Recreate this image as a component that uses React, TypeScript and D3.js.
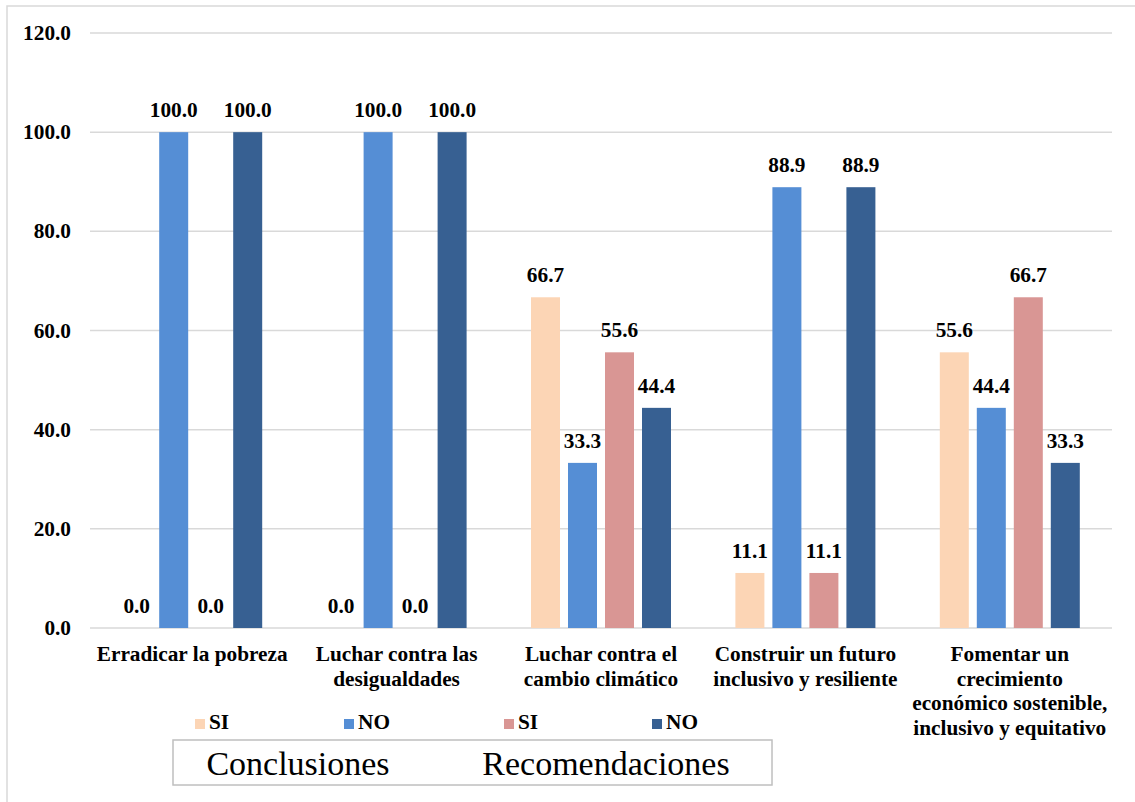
import React from "react";
import * as d3 from "d3";

const categories: string[][] = [
  ["Erradicar la pobreza"],
  ["Luchar contra las", "desigualdades"],
  ["Luchar contra el", "cambio climático"],
  ["Construir un futuro", "inclusivo y resiliente"],
  ["Fomentar un", "crecimiento", "económico sostenible,", "inclusivo y equitativo"],
];
const seriesKeys = ["conclSI", "conclNO", "recSI", "recNO"];
const seriesLabels = ["SI", "NO", "SI", "NO"];
const seriesColors = ["#FCD5B5", "#558ED5", "#D99694", "#376092"];
const conclusionesSI = [0, 0, 66.7, 11.1, 55.6];
const conclusionesNO = [100, 100, 33.3, 88.9, 44.4];
const recomendacionesSI = [0, 0, 55.6, 11.1, 66.7];
const recomendacionesNO = [100, 100, 44.4, 88.9, 33.3];
const yTicks = [0, 20, 40, 60, 80, 100, 120];
const tableHeaders = ["Conclusiones", "Recomendaciones"];

const seriesValues = [conclusionesSI, conclusionesNO, recomendacionesSI, recomendacionesNO];

const FONT = "Liberation Serif";
const bold = { fontFamily: FONT, fontWeight: "bold", fontSize: "21.3px" };
const plain = { fontFamily: FONT, fontSize: "34px" };

export default function App() {
  const W = 1135;
  const H = 802;
  const left = 90;
  const right = 1112;
  const top = 33;
  const bottom = 628;

  const y = d3.scaleLinear().domain([0, 120]).range([bottom, top]);
  const x0 = d3
    .scaleBand<number>()
    .domain(categories.map((_, i) => i))
    .range([left, right])
    .padding(0);
  const innerW = 148;
  const x1 = d3
    .scaleBand<string>()
    .domain(seriesKeys)
    .range([0, innerW])
    .paddingInner(8 / 37)
    .paddingOuter(4 / 37);

  const legendX = [195, 344, 504, 652];

  return (
    <svg
      width={W}
      height={H}
      style={{ position: "absolute", left: 0, top: 0, background: "#fff", fontFamily: FONT }}
    >
      <rect x={7} y={6} width={W} height={H} fill="#fff" stroke="#d9d9d9" strokeWidth={1.5} />
      {yTicks.map((t) => (
        <g key={t}>
          <line x1={left} x2={right} y1={y(t)} y2={y(t)} stroke="#d9d9d9" strokeWidth={1.5} />
          <text x={71} y={y(t) + 7} textAnchor="end" style={bold} fill="#000">
            {t.toFixed(1)}
          </text>
        </g>
      ))}
      {categories.map((cat, ci) => {
        const gx = (x0(ci) as number) + x0.bandwidth() / 2 - innerW / 2;
        return (
          <g key={ci}>
            {seriesKeys.map((k, si) => {
              const v = seriesValues[si][ci];
              const bx = gx + (x1(k) as number);
              return (
                <g key={k}>
                  <rect
                    x={bx}
                    y={y(v)}
                    width={x1.bandwidth()}
                    height={bottom - y(v)}
                    fill={seriesColors[si]}
                  />
                  <text
                    x={bx + x1.bandwidth() / 2}
                    y={y(v) - 15}
                    textAnchor="middle"
                    style={bold}
                    fill="#000"
                  >
                    {v.toFixed(1)}
                  </text>
                </g>
              );
            })}
            {cat.map((line, li) => (
              <text
                key={li}
                x={(x0(ci) as number) + x0.bandwidth() / 2}
                y={661 + li * 24.5}
                textAnchor="middle"
                style={bold}
                fill="#000"
              >
                {line}
              </text>
            ))}
          </g>
        );
      })}
      {seriesLabels.map((l, i) => (
        <g key={i}>
          <rect x={legendX[i]} y={719} width={10} height={10} fill={seriesColors[i]} />
          <text x={legendX[i] + 14} y={729} style={bold} fill="#000">
            {l}
          </text>
        </g>
      ))}
      <rect x={173} y={740} width={599} height={45} fill="#fff" stroke="#bfbfbf" strokeWidth={1.5} />
      <text x={298} y={775} textAnchor="middle" style={plain} fill="#000">
        {tableHeaders[0]}
      </text>
      <text x={606} y={775} textAnchor="middle" style={plain} fill="#000">
        {tableHeaders[1]}
      </text>
    </svg>
  );
}
